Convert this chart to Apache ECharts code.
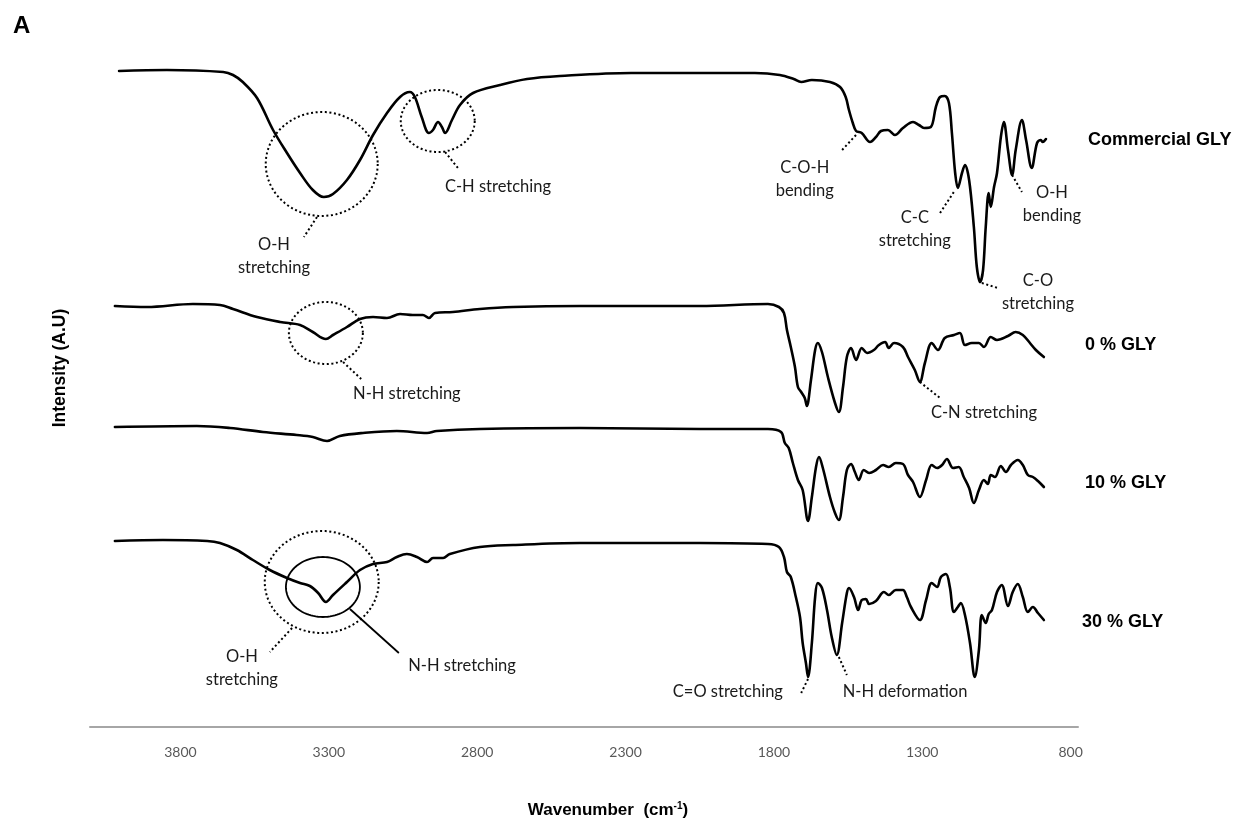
<!DOCTYPE html>
<html>
<head>
<meta charset="utf-8">
<script src="https://cdn.jsdelivr.net/npm/echarts@6/dist/echarts.min.js"></script>
<style>
  html, body { margin: 0; padding: 0; background: #ffffff; }
  #chart { width: 1242px; height: 818px; }
</style>
</head>
<body>
<div id="chart"></div>
<script>
// FTIR spectra (stacked, arbitrary intensity units), wavenumber in cm-1
const xTickValues = [3800, 3300, 2800, 2300, 1800, 1300, 800];
const seriesNames = ['Commercial GLY', '0 % GLY', '10 % GLY', '30 % GLY'];

const commercialWn = [4007,3846,3656,3623,3590,3542,3488,3441,3397,3354,3317,3286,3239,3195,3151,3104,3060,3027,3010,2987,2963,2949,2932,2919,2908,2885,2858,2814,2723,2632,2521,2281,2042,1864,1780,1733,1708,1672,1611,1577,1558,1547,1534,1523,1504,1476,1456,1439,1416,1392,1365,1331,1311,1294,1271,1254,1240,1224,1210,1200,1189,1180,1166,1156,1142,1126,1116,1105,1095,1086,1076,1069,1058,1048,1035,1025,1011,997,985,964,950,931,913,900,894,883];
const commercialI = [656,657,655,652,645,629,597,574,554,537,530,533,547,567,592,614,630,635,630,610,594,597,605,600,594,607,622,634,642,648,651,654,654,654,652,648,645,647,645,640,630,617,604,596,594,585,590,596,597,592,599,605,602,599,600,620,630,631,624,594,554,539,554,562,547,500,460,445,457,500,534,520,540,554,590,605,577,552,577,607,587,559,584,587,585,588];

const gly0Wn = [4021,3913,3758,3667,3623,3542,3464,3397,3354,3310,3286,3239,3195,3151,3104,3060,3017,2983,2963,2942,2882,2791,2679,2454,2049,1820,1783,1766,1756,1743,1729,1719,1708,1696,1689,1675,1661,1652,1638,1618,1594,1581,1567,1554,1540,1523,1504,1486,1463,1446,1425,1413,1395,1365,1348,1325,1308,1291,1268,1247,1224,1193,1173,1156,1133,1109,1092,1069,1048,1011,985,961,937,917,890];
const gly0I = [421,420,423,422,418,410,405,402,395,388,392,400,408,410,409,413,412,412,409,414,415,418,420,421,421,423,420,414,397,380,360,340,335,329,321,347,377,384,375,350,324,315,340,370,379,367,379,374,377,382,385,379,384,380,370,357,345,364,384,377,389,392,394,382,384,384,380,390,387,391,395,392,384,377,370];

const gly10Wn = [4021,3745,3633,3522,3408,3354,3306,3263,3185,3071,2969,2936,2791,2454,2049,1820,1776,1763,1750,1736,1719,1703,1685,1672,1658,1648,1635,1611,1594,1581,1567,1554,1540,1527,1514,1497,1479,1456,1432,1413,1389,1365,1348,1331,1308,1287,1268,1250,1233,1217,1196,1177,1160,1142,1126,1109,1092,1079,1069,1055,1035,1018,1001,978,961,944,927,910,890];
const gly10I = [300,301,299,295,292,290,286,291,294,296,294,296,298,299,298,298,295,284,279,264,247,237,206,230,260,270,259,230,214,207,230,257,263,255,247,257,254,257,262,260,264,263,252,245,230,247,262,259,262,268,259,260,250,239,224,237,247,243,252,250,261,255,262,267,262,252,250,246,240];

const gly30Wn = [4021,3859,3710,3667,3610,3556,3499,3441,3397,3364,3336,3310,3286,3239,3195,3151,3104,3071,3037,3003,2969,2949,2932,2915,2892,2791,2679,2454,2049,1820,1783,1766,1756,1743,1726,1712,1703,1692,1685,1672,1661,1652,1638,1621,1605,1588,1570,1554,1547,1530,1516,1504,1490,1479,1456,1429,1413,1389,1365,1352,1338,1308,1287,1268,1250,1237,1220,1207,1193,1180,1170,1156,1139,1123,1109,1099,1086,1076,1065,1048,1032,1011,995,978,961,944,927,910,890];
const gly30I = [186,187,186,184,177,167,157,149,144,141,134,125,132,145,157,163,165,170,173,170,165,169,169,169,173,180,182,184,184,183,180,170,155,150,130,110,84,64,50,84,130,144,139,117,90,72,104,134,139,130,117,127,128,123,126,135,132,137,137,130,120,107,127,144,140,150,153,140,115,120,124,112,84,50,77,112,104,113,117,135,142,121,135,143,130,115,120,114,107];

// Band assignments: circles/ellipses (centre in data units, radii in px), leader lines, captions
const bandRings = [
  { c: [3324, 563], rx: 56, ry: 52, dotted: true },
  { c: [2933, 606], rx: 37, ry: 31, dotted: true },
  { c: [3310, 394], rx: 37, ry: 31, dotted: true },
  { c: [3324, 145], rx: 57, ry: 51, dotted: true },
  { c: [3320, 140], rx: 37, ry: 30, dotted: false }
];
const bandLeaders = [
  { a: [3340, 510], b: [3384, 490], dotted: true },
  { a: [2908, 575], b: [2865, 559], dotted: true },
  { a: [1570, 577], b: [1520, 593], dotted: true },
  { a: [1240, 514], b: [1189, 537], dotted: true },
  { a: [997, 552], b: [964, 535], dotted: true },
  { a: [1099, 444], b: [1045, 439], dotted: true },
  { a: [3252, 365], b: [3191, 348], dotted: true },
  { a: [1308, 345], b: [1240, 329], dotted: true },
  { a: [3424, 99], b: [3499, 75], dotted: true },
  { a: [3229, 118], b: [3064, 74], dotted: false },
  { a: [1685, 48], b: [1708, 34], dotted: true },
  { a: [1581, 70], b: [1554, 52], dotted: true }
];
const bandCaptions = [
  { text: 'O-H\nstretching', at: [3485, 471] },
  { text: 'C-H stretching', at: [2730, 540] },
  { text: 'C-O-H\nbending', at: [1696, 548] },
  { text: 'C-C\nstretching', at: [1325, 498] },
  { text: 'O-H\nbending', at: [863, 523] },
  { text: 'C-O\nstretching', at: [910, 435] },
  { text: 'N-H stretching', at: [3037, 333] },
  { text: 'C-N stretching', at: [1092, 314] },
  { text: 'O-H\nstretching', at: [3593, 59] },
  { text: 'N-H stretching', at: [2851, 61] },
  { text: 'C=O stretching', at: [1955, 35] },
  { text: 'N-H deformation', at: [1358, 35] }
];

function pairs(wn, val) {
  const n = Math.min(wn.length, val.length);
  const out = [];
  for (let i = 0; i < n; i++) out.push([wn[i], val[i]]);
  return out;
}

const spectra = [
  pairs(commercialWn, commercialI),
  pairs(gly0Wn, gly0I),
  pairs(gly10Wn, gly10I),
  pairs(gly30Wn, gly30I)
];

const chart = echarts.init(document.getElementById('chart'));

chart.setOption({
  animation: false,
  backgroundColor: '#ffffff',
  grid: { left: 90, right: 164, top: 27, bottom: 91 },
  xAxis: {
    type: 'value',
    min: 775,
    max: 4105,
    interval: 5,
    inverse: true,
    axisLine: { onZero: false, lineStyle: { color: '#a6a6a6', width: 2 } },
    axisTick: { show: false },
    splitLine: { show: false },
    axisLabel: {
      customValues: xTickValues,
      formatter: v => (xTickValues.indexOf(v) >= 0 ? String(v) : ''),
      color: '#595959',
      fontSize: 14,
      fontFamily: 'Lato',
      margin: 18
    }
  },
  yAxis: { type: 'value', min: 0, max: 700, show: false },
  series: spectra.map((d, i) => ({
    name: seriesNames[i],
    type: 'line',
    data: d,
    showSymbol: false,
    smooth: 0.35,
    silent: true,
    lineStyle: { color: '#000000', width: 2.6, join: 'round', cap: 'round' }
  }))
});

const toPx = p => chart.convertToPixel({ xAxisIndex: 0, yAxisIndex: 0 }, p);
const dash = [2, 2.6];
const graphics = [];

bandRings.forEach(r => {
  const c = toPx(r.c);
  const pts = [];
  for (let k = 0; k < 96; k++) {
    const t = (k / 96) * Math.PI * 2;
    pts.push([c[0] + r.rx * Math.cos(t), c[1] + r.ry * Math.sin(t)]);
  }
  graphics.push({
    type: 'polygon', silent: true,
    shape: { points: pts },
    style: { fill: 'none', stroke: '#000', lineWidth: r.dotted ? 2 : 1.8, lineDash: r.dotted ? dash : null }
  });
});

bandLeaders.forEach(l => {
  const a = toPx(l.a), b = toPx(l.b);
  graphics.push({
    type: 'line', silent: true,
    shape: { x1: a[0], y1: a[1], x2: b[0], y2: b[1] },
    style: { stroke: '#000', lineWidth: l.dotted ? 2 : 1.8, lineDash: l.dotted ? dash : null }
  });
});

bandCaptions.forEach(t => {
  const p = toPx(t.at);
  graphics.push({
    type: 'text', silent: true, x: p[0], y: p[1],
    style: {
      text: t.text, align: 'center', verticalAlign: 'middle',
      fontSize: 16.5, fontFamily: 'Lato', lineHeight: 23, fill: '#1a1a1a'
    }
  });
});

// Sample names beside each spectrum
const nameSpots = [[1088, 140], [1085, 345], [1085, 483], [1082, 622]];
seriesNames.forEach((n, i) => {
  graphics.push({
    type: 'text', silent: true, x: nameSpots[i][0], y: nameSpots[i][1],
    style: {
      text: n, align: 'left', verticalAlign: 'middle',
      fontSize: 18, fontWeight: 'bold', fontFamily: 'Liberation Sans', fill: '#000'
    }
  });
});

// Panel letter and axis titles
graphics.push({
  type: 'text', silent: true, x: 13, y: 14,
  style: { text: 'A', fontSize: 24, fontWeight: 'bold', fontFamily: 'Liberation Sans', fill: '#000' }
});
graphics.push({
  type: 'text', silent: true, x: 60, y: 368, rotation: Math.PI / 2,
  style: {
    text: 'Intensity (A.U)', align: 'center', verticalAlign: 'middle',
    fontSize: 17.5, fontWeight: 'bold', fontFamily: 'Liberation Sans', fill: '#000'
  }
});
graphics.push({
  type: 'text', silent: true, x: 608, y: 810,
  style: {
    text: '{b|Wavenumber  (cm}{s|-1}{b|)}', align: 'center', verticalAlign: 'middle',
    rich: {
      b: { fontSize: 17, fontWeight: 'bold', fontFamily: 'Liberation Sans', fill: '#000' },
      s: { fontSize: 10, fontWeight: 'bold', fontFamily: 'Liberation Sans', fill: '#000', verticalAlign: 'top' }
    }
  }
});

chart.setOption({ graphic: graphics });
</script>
</body>
</html>
